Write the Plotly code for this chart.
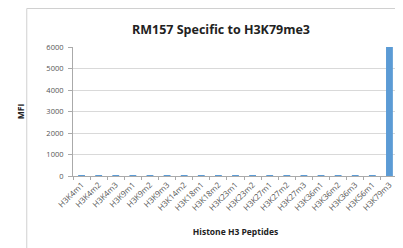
import plotly.graph_objects as go

peptides = ["H3K4m1", "H3K4m2", "H3K4m3", "H3K9m1", "H3K9m2", "H3K9m3", "H3K14m2",
            "H3K18m1", "H3K18m2", "H3K23m1", "H3K23m2", "H3K27m1", "H3K27m2", "H3K27m3",
            "H3K36m1", "H3K36m2", "H3K36m3", "H3K56m1", "H3K79m3"]
mfi = [15, 12, 15, 12, 15, 12, 15, 12, 15, 12, 15, 12, 12, 15, 12, 15, 12, 15, 6000]
y_ticks = [0, 1000, 2000, 3000, 4000, 5000, 6000]

W, H = 403, 248
ml, mr, mt, mb = 49, 13, 39, 80
pw = W - ml - mr
ph = H - mt - mb

def px(x):
    return (x - ml) / pw

def py(y):
    return (H - mb - y) / ph

fig = go.Figure(go.Bar(x=peptides, y=mfi, marker_color="#5b9bd5", marker_line_width=0))

fig.update_layout(
    width=W, height=H,
    margin=dict(l=ml, r=mr, t=mt, b=mb),
    paper_bgcolor="white", plot_bgcolor="white",
    bargap=0.6,
    showlegend=False,
    font=dict(family="Open Sans, Lato, sans-serif", color="#555"),
    title=dict(text="<b>RM157 Specific to H3K79me3</b>", x=213 / W, xanchor="center",
               y=1 - 22 / H, yanchor="middle",
               font=dict(size=12.5, color="#222", family="Open Sans, sans-serif")),
    xaxis=dict(
        tickangle=-45, tickfont=dict(size=8, color="#555"),
        showline=True, linecolor="#aaa", linewidth=1,
        ticks="outside", ticklen=3, tickcolor="#aaa", tickson="boundaries",
        showgrid=False,
        title=dict(text="<b>Histone H3 Peptides</b>", standoff=17,
                   font=dict(size=8.5, color="#222")),
    ),
    yaxis=dict(
        range=[0, 6000], tickvals=y_ticks, tickfont=dict(size=7.5, color="#555"),
        showline=True, linecolor="#aaa", linewidth=1,
        ticks="outside", ticklen=4, tickcolor="#aaa", ticklabelstandoff=3,
        showgrid=True, gridcolor="#d9d9d9", gridwidth=1,
        zeroline=False,
        title=dict(text="<b>MFI</b>", standoff=20, font=dict(size=8.5, color="#222")),
    ),
    shapes=[
        dict(type="rect", xref="paper", yref="paper",
             x0=px(0.5), x1=px(W + 5), y0=py(H + 5), y1=py(0.5),
             line=dict(color="#d0d0d0", width=1), fillcolor="rgba(0,0,0,0)", layer="below"),
    ],
)

fig.write_html("out.html")
